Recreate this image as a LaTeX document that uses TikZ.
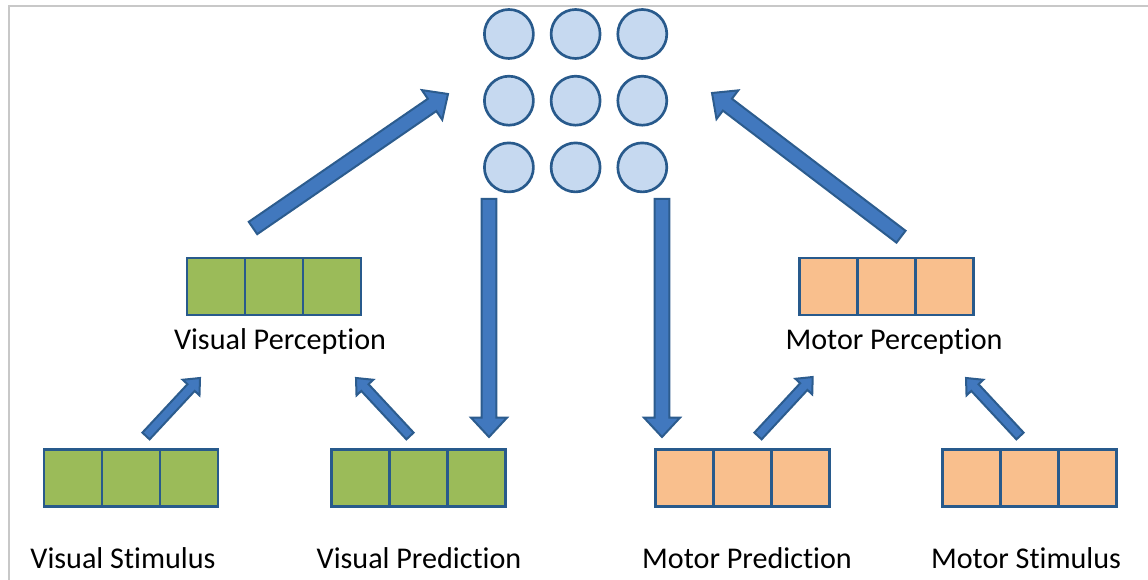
\documentclass[tikz,border=0pt]{standalone}
\usepackage{fontspec}
\setmainfont{Carlito}[Ligatures=NoCommon]
\usetikzlibrary{positioning,calc}

\definecolor{frameGray}{RGB}{200,200,200}
\definecolor{cellLine}{RGB}{40,90,140}
\definecolor{greenFill}{RGB}{155,187,89}
\definecolor{orangeFill}{RGB}{249,191,141}
\definecolor{unitFill}{RGB}{198,217,240}
\definecolor{arrowFill}{RGB}{65,120,190}
\definecolor{arrowLine}{RGB}{44,92,142}

% block arrow: style, tail, tip, half shaft, half head, head length
\newcommand{\blockarrow}[6]{%
  \coordinate (ba-h) at ($(#3)!#6!(#2)$);
  \draw[#1] ($(#2)!#4!90:(#3)$) -- ($(ba-h)!#4!90:(#3)$) -- ($(ba-h)!#5!90:(#3)$)
    -- (#3) -- ($(ba-h)!#5!-90:(#3)$) -- ($(ba-h)!#4!-90:(#3)$) -- ($(#2)!#4!-90:(#3)$) -- cycle;}

\begin{document}
\begin{tikzpicture}[x=0.75pt,y=-0.75pt,
  greencell/.style={draw=cellLine,line width=2.2pt,fill=greenFill,minimum width=43.5pt,minimum height=42.75pt,inner sep=0pt,outer sep=0pt},
  orangecell/.style={greencell,fill=orangeFill},
  unit/.style={circle,draw=cellLine,line width=2pt,fill=unitFill,minimum size=36.75pt,inner sep=0pt},
  bigarrow/.style={draw=arrowLine,line width=1.5pt,fill=arrowFill},
  caption/.style={anchor=base,inner sep=0pt,font=\fontsize{22.6pt}{27pt}\selectfont}]

\useasboundingbox (0,0) rectangle (1148,580);

%FRAME
\draw[frameGray,line width=1.5pt] (9,580) -- (9,6) -- (1148,6);

%UNITS
\foreach \r in {1,2,3}
  \foreach \c in {1,2,3}
    \node[unit] (u-\r-\c) at ({442.2+66.7*\c},{-32.7+66.7*\r}) {};

%ARRAYS
% visual perception
\node[greencell] (visPer1) at (216,286.5) {};
\node[greencell,right=0pt of visPer1] (visPer2) {};
\node[greencell,right=0pt of visPer2] (visPer3) {};
% visual stimulus
\node[greencell] (visStim1) at (73,478) {};
\node[greencell,right=0pt of visStim1] (visStim2) {};
\node[greencell,right=0pt of visStim2] (visStim3) {};
% visual prediction
\node[greencell] (visPred1) at (360.7,478) {};
\node[greencell,right=0pt of visPred1] (visPred2) {};
\node[greencell,right=0pt of visPred2] (visPred3) {};
% motor prediction
\node[orangecell] (motPred1) at (684.7,478) {};
\node[orangecell,right=0pt of motPred1] (motPred2) {};
\node[orangecell,right=0pt of motPred2] (motPred3) {};
% motor stimulus
\node[orangecell] (motStim1) at (971.7,478) {};
\node[orangecell,right=0pt of motStim1] (motStim2) {};
\node[orangecell,right=0pt of motStim2] (motStim3) {};
% motor perception
\node[orangecell] (motPer1) at (828.3,286.5) {};
\node[orangecell,right=0pt of motPer1] (motPer2) {};
\node[orangecell,right=0pt of motPer2] (motPer3) {};

%LABELS
\node[caption] (visPerLbl) at (280,350) {Visual Perception};
\node[caption] (motPerLbl) at (894,350) {Motor Perception};
\node[caption] (visStimLbl) at (123,568) {Visual Stimulus};
\node[caption] (visPredLbl) at (419,568) {Visual Prediction};
\node[caption] (motPredLbl) at (747,568) {Motor Prediction};
\node[caption] (motStimLbl) at (1026,568) {Motor Stimulus};

%ARROWS
% end points
\coordinate (visPerOut) at (253,228);
\coordinate (hubInL) at (448,94);
\coordinate (motPerOut) at (901,236.7);
\coordinate (hubInR) at (712,93);
\coordinate (hubOutL) at (489,199);
\coordinate (visPredIn) at (489,437);
\coordinate (hubOutR) at (662,199);
\coordinate (motPredIn) at (662,437);
\coordinate (visStimOut) at (146,436);
\coordinate (visPerInL) at (200,378);
\coordinate (visPredOut) at (410,436);
\coordinate (visPerInR) at (356,378);
\coordinate (motPredOut) at (758,436);
\coordinate (motPerInL) at (812.7,377);
\coordinate (motStimOut) at (1020,436);
\coordinate (motPerInR) at (966,378);
% big
\blockarrow{bigarrow}{visPerOut}{hubInL}{5.6pt}{13.5pt}{14.5pt}
\blockarrow{bigarrow}{motPerOut}{hubInR}{5.6pt}{13.5pt}{14.5pt}
\blockarrow{bigarrow}{hubOutL}{visPredIn}{5.6pt}{13.5pt}{14.5pt}
\blockarrow{bigarrow}{hubOutR}{motPredIn}{5.6pt}{13.5pt}{14.5pt}
% small
\blockarrow{bigarrow}{visStimOut}{visPerInL}{3.7pt}{8.6pt}{9.8pt}
\blockarrow{bigarrow}{visPredOut}{visPerInR}{3.7pt}{8.6pt}{9.8pt}
\blockarrow{bigarrow}{motPredOut}{motPerInL}{3.7pt}{8.6pt}{9.8pt}
\blockarrow{bigarrow}{motStimOut}{motPerInR}{3.7pt}{8.6pt}{9.8pt}

\end{tikzpicture}
\end{document}
